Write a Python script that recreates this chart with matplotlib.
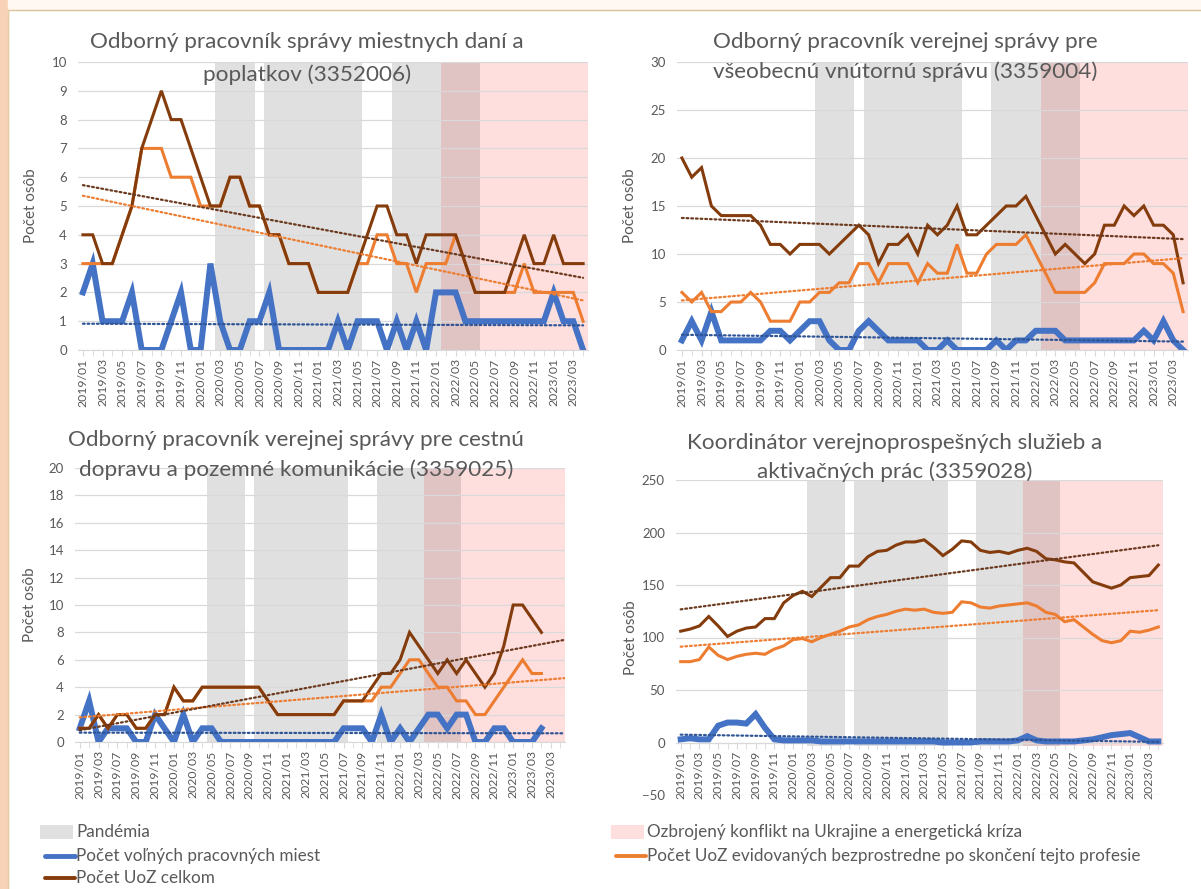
import numpy as np
import matplotlib
matplotlib.use('Agg')
from matplotlib import pyplot as plt
from matplotlib.patches import Rectangle
from matplotlib.lines import Line2D

plt.rcParams['font.family'] = ['Lato', 'DejaVu Sans']
TXT = '#595959'
BLUE = '#4472C4'
ORANGE = '#ED7D31'
BROWN = '#843C0C'

# categories (monthly, 2019/01 - 2023/04)
months = [f'{y}/{m:02d}' for y in range(2019, 2024) for m in range(1, 13)][:52]
p3_labels = ['2019/01', '2019/03', '2019/07', '2019/09', '2019/11', '2020/01', '2020/03',
             '2020/05', '2020/07', '2020/09', '2020/11', '2021/01', '2021/03', '2021/05',
             '2021/07', '2021/09', '2021/11', '2022/01', '2022/03', '2022/05', '2022/07',
             '2022/09', '2022/11', '2023/01', '2023/03', '2023/03']

pandemic = [('2020/03', '2020/06'), ('2020/08', '2021/05'), ('2021/09', '2022/05')]
conflict = ('2022/02', '2023/04')

# 3352006
p1_vac = [2, 3, 1, 1, 1, 2, 0, 0, 0, 1, 2, 0, 0, 3, 1, 0, 0, 1, 1, 2,
          0, 0, 0, 0, 0, 0, 1, 0, 1, 1, 1, 0, 1, 0, 1, 0, 2, 2, 2, 1,
          1, 1, 1, 1, 1, 1, 1, 1, 2, 1, 1, 0]
p1_prof = [3, 3, 3, 3, 4, 5, 7, 7, 7, 6, 6, 6, 5, 5, 5, 6, 6, 5, 5, 4,
           4, 3, 3, 3, 2, 2, 2, 2, 3, 3, 4, 4, 3, 3, 2, 3, 3, 3, 4, 3,
           2, 2, 2, 2, 2, 3, 2, 2, 2, 2, 2, 1]
p1_all = [4, 4, 3, 3, 4, 5, 7, 8, 9, 8, 8, 7, 6, 5, 5, 6, 6, 5, 5, 4,
          4, 3, 3, 3, 2, 2, 2, 2, 3, 4, 5, 5, 4, 4, 3, 4, 4, 4, 4, 3,
          2, 2, 2, 2, 3, 4, 3, 3, 4, 3, 3, 3]

# 3359004
p2_vac = [1, 3, 1, 4, 1, 1, 1, 1, 1, 2, 2, 1, 2, 3, 3, 1, 0, 0, 2, 3,
          2, 1, 1, 1, 1, 0, 0, 1, 0, 0, 0, 0, 1, 0, 1, 1, 2, 2, 2, 1,
          1, 1, 1, 1, 1, 1, 1, 2, 1, 3, 1, 0]
p2_prof = [6, 5, 6, 4, 4, 5, 5, 6, 5, 3, 3, 3, 5, 5, 6, 6, 7, 7, 9, 9,
           7, 9, 9, 9, 7, 9, 8, 8, 11, 8, 8, 10, 11, 11, 11, 12, 10, 8, 6, 6,
           6, 6, 7, 9, 9, 9, 10, 10, 9, 9, 8, 4]
p2_all = [20, 18, 19, 15, 14, 14, 14, 14, 13, 11, 11, 10, 11, 11, 11, 10, 11, 12, 13, 12,
          9, 11, 11, 12, 10, 13, 12, 13, 15, 12, 12, 13, 14, 15, 15, 16, 14, 12, 10, 11,
          10, 9, 10, 13, 13, 15, 14, 15, 13, 13, 12, 7]

# 3359025
p3_vac = [1, 3, 0, 1, 1, 1, 0, 0, 2, 1, 0, 2, 0, 1, 1, 0, 0, 0, 0, 0,
          0, 0, 0, 0, 0, 0, 0, 0, 1, 1, 1, 0, 2, 0, 1, 0, 1, 2, 2, 1,
          2, 2, 0, 0, 1, 1, 0, 0, 0, 1]
p3_prof = [1, 1, 2, 1, 2, 2, 1, 1, 2, 2, 4, 3, 3, 4, 4, 4, 4, 4, 4, 4,
           3, 2, 2, 2, 2, 2, 2, 2, 3, 3, 3, 3, 4, 4, 5, 6, 6, 5, 4, 4,
           3, 3, 2, 2, 3, 4, 5, 6, 5, 5]
p3_all = [1, 1, 2, 1, 2, 2, 1, 1, 2, 2, 4, 3, 3, 4, 4, 4, 4, 4, 4, 4,
          3, 2, 2, 2, 2, 2, 2, 2, 3, 3, 3, 4, 5, 5, 6, 8, 7, 6, 5, 6,
          5, 6, 5, 4, 5, 7, 10, 10, 9, 8]

# 3359028
p4_vac = [3, 4, 3, 3, 16, 19, 19, 18, 27, 14, 3, 2, 2, 2, 2, 1, 1, 1, 1, 1,
          1, 1, 1, 1, 1, 1, 1, 1, 0, 0, 0, 0, 1, 1, 1, 1, 2, 6, 2, 1,
          1, 1, 1, 2, 3, 5, 7, 8, 9, 5, 1, 1]
p4_prof = [77, 77, 79, 91, 83, 79, 82, 84, 85, 84, 89, 92, 98, 99, 96, 100, 103, 106, 110, 112,
           117, 120, 122, 125, 127, 126, 127, 124, 123, 124, 134, 133, 129, 128, 130, 131, 132, 133, 130, 124,
           122, 115, 117, 110, 103, 97, 95, 97, 106, 105, 107, 110]
p4_all = [106, 108, 111, 120, 111, 101, 106, 109, 110, 118, 118, 133, 140, 144, 139, 148, 157, 157, 168, 168,
          177, 182, 183, 188, 191, 191, 193, 186, 178, 184, 192, 191, 183, 181, 182, 180, 183, 185, 182, 175,
          174, 172, 171, 162, 153, 150, 147, 150, 157, 158, 159, 169]

W, H = 1201, 889
fig = plt.figure(figsize=(W / 100, H / 100), dpi=100)
fig.patch.set_facecolor('white')

# page background bits around the chart box
fig.add_artist(Rectangle((0, 0), 8 / W, 1, transform=fig.transFigure, color='#F7D2B6', zorder=0))
fig.add_artist(Rectangle((8 / W, 1 - 10 / H), 1, 10 / H, transform=fig.transFigure, color='#FFF8F2', zorder=0))
fig.add_artist(Line2D([8 / W, 1], [1 - 10 / H] * 2, transform=fig.transFigure, color='#D8C49A', lw=1))
fig.add_artist(Line2D([8 / W] * 2, [0, 1 - 10 / H], transform=fig.transFigure, color='#E3CFA8', lw=1))


def box(l, t, r, b):
    return [l / W, 1 - b / H, (r - l) / W, (b - t) / H]


def panel(rect, title, cx, ty, vac, prof, tot, ylim, step, labels, trend_end, zero_axis=False):
    ax = fig.add_axes(box(*rect))
    for s in ['top', 'left', 'right']:
        ax.spines[s].set_visible(False)
    ax.spines['bottom'].set_color('#D9D9D9')
    band_lo = 0
    if zero_axis:
        ax.spines['bottom'].set_position(('data', 0))
        band_lo = (0 - ylim[0]) / (ylim[1] - ylim[0]) - 0.01
    n = len(tot)
    x = np.arange(n)
    ci0 = months.index(conflict[0]) - 0.5
    ax.axvspan(ci0, 51.5, ymin=band_lo, color='#FFDEDE', lw=0, zorder=0.1)
    for a, b in pandemic:
        ax.axvspan(months.index(a) - 0.5, months.index(b) + 0.5, ymin=band_lo, color='black', alpha=0.12,
                   lw=0, zorder=0.2)
    xt = np.array([0, trend_end])
    for ser, c, tc, lw in [(vac, BLUE, '#2F5597', 4.3), (prof, ORANGE, ORANGE, 2.2), (tot, BROWN, '#6B3A1E', 2.2)]:
        ax.plot(x, ser, color=c, lw=lw, solid_joinstyle='miter', zorder=3)
        k, q = np.polyfit(x, ser, 1)
        ax.plot(xt, k * xt + q, color=tc, lw=1.6, ls=(0, (0.8, 1.3)), dash_capstyle='round', zorder=4)
    ax.set_xlim(-0.5, 51.5)
    ax.set_ylim(*ylim)
    ax.set_yticks(np.arange(ylim[0], ylim[1] + step / 2, step))
    ax.set_xticks(np.arange(0, 2 * len(labels), 2))
    ax.set_xticklabels(labels, rotation=90)
    ax.set_xticks(np.arange(0, 52), minor=True)
    ax.tick_params(axis='y', length=0, labelsize=9.5, labelcolor=TXT, pad=8)
    ax.tick_params(axis='x', which='both', length=4, color='#D9D9D9', labelsize=8.8, labelcolor=TXT, pad=2)
    ax.yaxis.grid(True, color='#D9D9D9', lw=0.9)
    ax.set_axisbelow(True)
    ax.set_facecolor('none')
    ax.set_ylabel('Počet osôb', color=TXT, fontsize=11)
    ax.yaxis.set_label_coords(-0.078, 0.5)
    for line, yy in zip(title, ty):
        fig.text(cx / W, 1 - yy / H, line, ha='center', va='center', fontsize=16.2, color=TXT)
    return ax


panel((78, 62, 588, 350), ['Odborný pracovník správy miestnych daní a', 'poplatkov (3352006)'],
      307, (42, 75), p1_vac, p1_prof, p1_all, (0, 10), 1, months[::2], 51)
panel((677, 62, 1188, 350), ['Odborný pracovník verejnej správy pre', 'všeobecnú vnútornú správu (3359004)'],
      905, (42, 72), p2_vac, p2_prof, p2_all, (0, 30), 5, months[::2], 51)
panel((75, 468, 565, 742), ['Odborný pracovník verejnej správy pre cestnú', 'dopravu a pozemné komunikácie (3359025)'],
      296, (440, 470), p3_vac, p3_prof, p3_all, (0, 20), 2, p3_labels, 51.5)
panel((676, 480, 1163, 795), ['Koordinátor verejnoprospešných služieb a', 'aktivačných prác (3359028)'],
      895, (443, 472), p4_vac, p4_prof, p4_all, (-50, 250), 50, months[::2], 51, zero_axis=True)

# legend
items = [
    ('patch', '#E0E0E0', 40, 832, 'Pandémia'),
    ('patch', '#FFDEDE', 611, 832, 'Ozbrojený konflikt na Ukrajine a energetická kríza'),
    ('line', BLUE, 40, 856, 'Počet voľných pracovných miest'),
    ('line', ORANGE, 611, 856, 'Počet UoZ evidovaných bezprostredne po skončení tejto profesie'),
    ('line', BROWN, 40, 878, 'Počet UoZ celkom'),
]
for kind, c, lx, ly, lab in items:
    if kind == 'patch':
        fig.add_artist(Rectangle((lx / W, 1 - (ly + 7) / H), 33 / W, 14 / H, transform=fig.transFigure,
                                 color=c, lw=0))
    else:
        fig.add_artist(Line2D([(lx + 5) / W, (lx + 35) / W], [1 - ly / H] * 2, transform=fig.transFigure,
                              color=c, lw=3.5 if c == BLUE else 2.8, solid_capstyle='round'))
    fig.text((lx + 36) / W, 1 - ly / H, lab, ha='left', va='center', fontsize=12.3, color=TXT)

fig.savefig('out.png', dpi=100)
